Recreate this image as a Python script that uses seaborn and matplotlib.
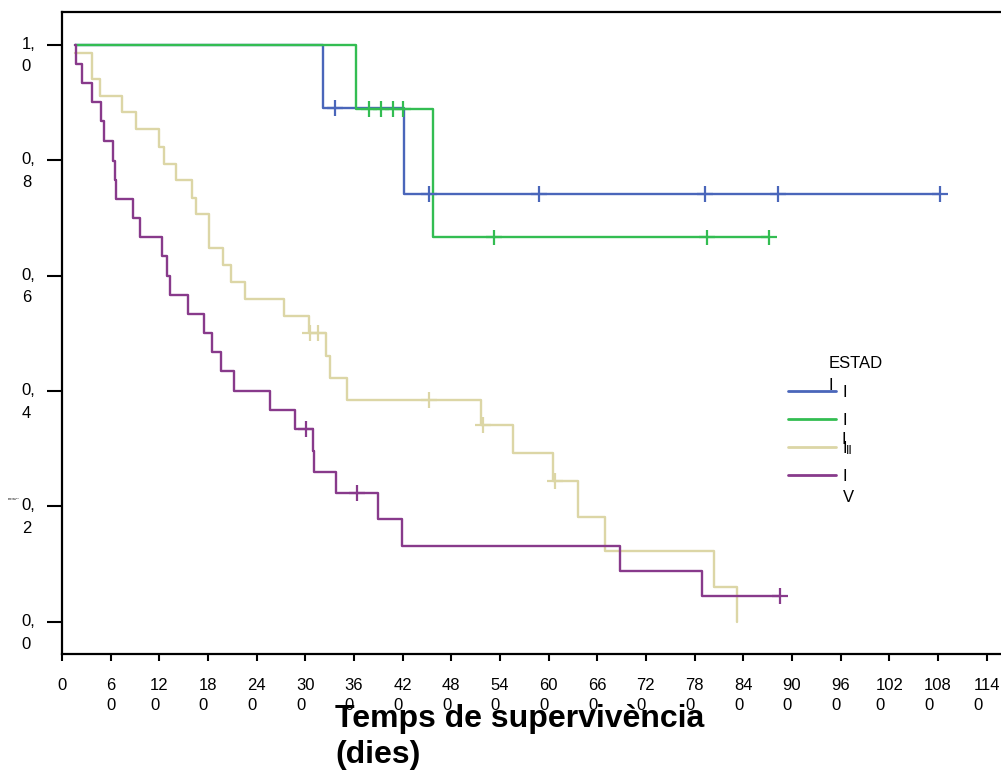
import numpy as np
import pandas as pd
import matplotlib
matplotlib.use("Agg")
import matplotlib.pyplot as plt
import matplotlib.transforms as mtrans
import seaborn as sns

# ---------------- data ----------------
groups = ["I", "II", "III", "IV"]

t_I = [16, 322, 422, 1083]
s_I = [1.0, 0.890, 0.741, 0.741]
c_I = [336.6, 452.5, 588, 792.8, 882.5, 1082.6]

t_II = [16, 363, 458, 872]
s_II = [1.0, 0.889, 0.666, 0.666]
c_II = [378.5, 393, 408.5, 420, 532.7, 795, 872]

t_III = [16, 37.6, 46.9, 74.4, 90.9, 119.6, 126.1, 140.6, 159.9, 165.2, 181.3,
         198.9, 208.4, 225.6, 273.7, 304.6, 325.5, 330.5, 351, 516.6, 555.7,
         605.8, 636.6, 669.5, 804.3, 832.6]
s_III = [0.986, 0.941, 0.911, 0.883, 0.853, 0.823, 0.794, 0.765, 0.735, 0.707,
         0.647, 0.618, 0.589, 0.559, 0.530, 0.500, 0.461, 0.423, 0.384, 0.341,
         0.292, 0.244, 0.182, 0.122, 0.061, 0.0]
c_III = [305.5, 316, 452.5, 519.5, 607.9]

t_IV = [16.5, 17.3, 24.3, 37.4, 48.1, 51.8, 63.3, 65.4, 66.6, 87.2, 96.2, 122.9,
        129.1, 133.2, 155.7, 175.1, 184.6, 195.7, 212.1, 257, 287.3, 309.1,
        310.7, 337.5, 390, 419.6, 688, 789.5, 885.3]
s_IV = [1.0, 0.967, 0.934, 0.901, 0.868, 0.833, 0.798, 0.765, 0.733, 0.699,
        0.666, 0.633, 0.599, 0.566, 0.533, 0.500, 0.467, 0.435, 0.400, 0.367,
        0.334, 0.296, 0.259, 0.224, 0.178, 0.132, 0.088, 0.045, 0.045]
c_IV = [300.9, 363.4, 885.3]

x_ticks = list(range(0, 1141, 60))
x_tick_labels = ["0"] + [f"{v // 10}\n0" for v in x_ticks[1:]]
y_ticks = [0.0, 0.2, 0.4, 0.6, 0.8, 1.0]
y_tick_labels = ["0,\n0", "0,\n2", "0,\n4", "0,\n6", "0,\n8", "1,\n0"]

colors = ["#4A66BA", "#33BD52", "#DCD6A6", "#883A8B"]

# ---------------- frames ----------------
curves = {"I": (t_I, s_I, c_I), "II": (t_II, s_II, c_II),
          "III": (t_III, s_III, c_III), "IV": (t_IV, s_IV, c_IV)}
rows, crows = [], []
for g in groups:
    t, s, c = curves[g]
    for ti, si in zip(t, s):
        rows.append({"group": g, "time": ti, "surv": si})
    ta = np.asarray(t)
    for ci in c:
        idx = np.searchsorted(ta, ci, side="right") - 1
        crows.append({"group": g, "time": ci, "surv": s[idx]})
df = pd.DataFrame(rows)
cdf = pd.DataFrame(crows)

# ---------------- plot ----------------
sns.set_style("white")
plt.rcParams["font.family"] = ["Liberation Sans", "DejaVu Sans"]
plt.rcParams.update({"text.color": "black", "axes.labelcolor": "black",
                     "xtick.color": "black", "ytick.color": "black",
                     "xtick.bottom": True, "ytick.left": True})

W, H = 1001, 772
fig = plt.figure(figsize=(W / 100, H / 100), dpi=100)
ax = fig.add_axes([62 / W, (H - 654) / H, (W - 62) / W, (654 - 12) / H])

pal = dict(zip(groups, colors))
sns.lineplot(data=df, x="time", y="surv", hue="group", hue_order=groups,
             palette=pal, estimator=None, sort=False, drawstyle="steps-post",
             linewidth=1.7, ax=ax, legend=True)
sns.scatterplot(data=cdf, x="time", y="surv", hue="group", hue_order=groups,
                palette=pal, marker="+", s=130, linewidth=1.6, ax=ax,
                legend=False, zorder=3)

ax.set_xlim(0, (W - 62) / 0.811)
ax.set_ylim(-0.0556, 1.0565)

ax.set_xticks(x_ticks)
ax.set_xticklabels(x_tick_labels, fontsize=12, multialignment="left", linespacing=1.45)
ax.set_yticks(y_ticks)
ax.set_yticklabels(y_tick_labels, fontsize=12, multialignment="left", linespacing=1.65)
ax.tick_params(axis="x", bottom=True, direction="out", length=5, width=1.5, pad=12, colors="black")
ax.tick_params(axis="y", left=True, direction="out", length=10.5, width=1.5, pad=8.5, colors="black")
for lbl in ax.get_yticklabels():
    lbl.set_va("top")
    lbl.set_transform(lbl.get_transform() + mtrans.ScaledTranslation(0, 8 / 100, fig.dpi_scale_trans))

for side in ["left", "top", "bottom"]:
    ax.spines[side].set_visible(True)
    ax.spines[side].set_color("black")
    ax.spines[side].set_linewidth(1.6)
ax.spines["right"].set_visible(False)

ax.set_ylabel("")
ax.set_xlabel("Temps de supervivència\n(dies)", fontsize=23, fontweight="bold",
              ha="left", va="top", linespacing=1.25, color="black")
ax.xaxis.set_label_coords((335 - 62) / (W - 62), -(704 - 654) / (654 - 12))

# legend
handles, labels = ax.get_legend_handles_labels()
leg = ax.legend(handles[-4:], ["I", "I", "I", "I"], loc="upper left",
                bbox_to_anchor=(788 / W, 1 - 385 / H), bbox_transform=fig.transFigure,
                frameon=False, fontsize=12, handlelength=2.85, handletextpad=0.45,
                labelspacing=0.78, borderpad=0, borderaxespad=0)
for ln in leg.get_lines():
    ln.set_linewidth(2.0)
for t in leg.get_texts():
    t.set_color("black")


def ftxt(x, y, s, **kw):
    fig.text(x / W, 1 - y / H, s, va="center", ha="left", color="black", **kw)


ftxt(829, 363, "ESTAD", fontsize=12)
ftxt(829, 385, "I", fontsize=12)
ftxt(841.5, 440, "I", fontsize=12)
ftxt(846, 451, "II", fontsize=9)
ftxt(843, 498, "V", fontsize=12)
ftxt(8, 499, "Supervivència\nacumulada", fontsize=1.4)

fig.savefig("out.png", dpi=100)
